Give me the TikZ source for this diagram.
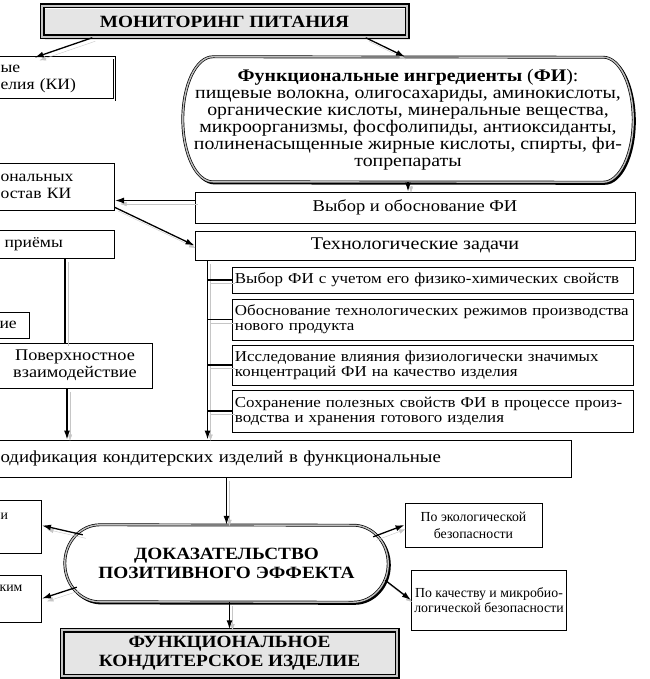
\documentclass[tikz,border=0pt]{standalone}
\usepackage{fontspec}
\setmainfont{Liberation Serif}[FakeStretch=1.12]
\newfontfamily\sidefont{Liberation Serif}
\usetikzlibrary{arrows.meta, positioning, calc, backgrounds, shadows}

\begin{document}
\begin{tikzpicture}[x=1pt, y=-1pt,
  every node/.style={font=\fontsize{17.2}{17}\selectfont},
  box/.style={draw, line width=0.9pt, inner sep=3pt, align=center},
  cutbox/.style={box, anchor=east, inner xsep=10pt, align=left, font=\fontsize{15.7}{17}\selectfont},
  dblbox/.style={cutbox, line width=0.9pt, double, double distance=1.2pt},
  sidebox/.style={box, font=\sidefont\fontsize{13.8}{15}\selectfont},
  taskbox/.style={box, anchor=west, minimum width=401pt, text width=396pt, inner xsep=2.5pt, align=left, font=\fontsize{15.1}{15}\selectfont},
  framebox/.style={draw, line width=1.5pt, double=gray!45, double distance=2pt, align=center, font=\fontsize{17.2}{19}\selectfont\bfseries, drop shadow={shadow xshift=3pt, shadow yshift=-3pt, fill=gray!40}},
  stadium/.style={draw, line width=0.7pt, double=gray!50, double distance=1.4pt, fill=white, preaction={draw, line width=2.2pt, transform canvas={shift={(1.5pt,-1.5pt)}}}},
  arr/.style={-{Latex[length=9pt,width=6pt]}, line width=1.3pt, preaction={draw=gray!45, transform canvas={shift={(3pt,-3.5pt)}}}},
  link/.style={line width=1.3pt, preaction={draw=gray!45, transform canvas={shift={(3pt,-3.5pt)}}}},
]
\useasboundingbox (0,0) rectangle (649,679);
\clip (0,0) rectangle (649,679);

\node[framebox, minimum width=365pt, minimum height=31pt] (title) at (224.5,21.5) {МОНИТОРИНГ ПИТАНИЯ};
\node[dblbox, text width=104pt, minimum height=42pt] (ki) at (115,79) {ые\\елия (КИ)};
\node[align=center, minimum width=450pt, minimum height=125pt, font=\fontsize{17.7}{17}\selectfont] (fi) at (408,119.5) {\textbf{Функциональные ингредиенты} (\textbf{ФИ}):\\пищевые волокна, олигосахариды, аминокислоты,\\органические кислоты, минеральные вещества,\\микроорганизмы, фосфолипиды, антиоксиданты,\\полиненасыщенные жирные кислоты, спирты, фи-\\топрепараты};
\node[box, minimum width=440pt, minimum height=31pt, font=\fontsize{16.5}{17}\selectfont] (vyb) at (415,207.5) {Выбор и обоснование ФИ};
\node[cutbox, text width=104pt, minimum height=47pt] (sost) at (115,186.5) {ональных\\остав КИ};
\node[box, minimum width=440pt, minimum height=29pt, font=\fontsize{17.9}{17}\selectfont] (tech) at (415,245.5) {Технологические задачи};
\node[cutbox, text width=100pt, minimum height=28pt] (priem) at (115,244) {приёмы};
\node[cutbox, text width=20pt, minimum height=26pt] (ie) at (30,325) {ие};
\node[box, minimum width=154pt, minimum height=45pt, font=\fontsize{16.3}{17}\selectfont] (pov) at (75,365.5) {Поверхностное\\взаимодействие};

\node[taskbox, minimum height=26pt] (t1) at (232,280) {Выбор ФИ с учетом его физико-химических свойств};
\node[taskbox, minimum height=41pt] (t2) at (232,319.5) {Обоснование технологических режимов производства\\нового продукта};
\node[taskbox, minimum height=40pt] (t3) at (232,365) {Исследование влияния физиологически значимых\\концентраций ФИ на качество изделия};
\node[taskbox, minimum height=42pt] (t4) at (232,411) {Сохранение полезных свойств ФИ в процессе произ-\\водства и хранения готового изделия};

\node[cutbox, text width=561pt, minimum height=37pt, font=\fontsize{16.8}{17}\selectfont] (mod) at (572,458.5) {одификация кондитерских изделий в функциональные};
\node[align=center, minimum width=323pt, minimum height=77pt, font=\fontsize{17.2}{19}\selectfont\bfseries] (dok) at (226.5,563.5) {ДОКАЗАТЕЛЬСТВО\\ПОЗИТИВНОГО ЭФФЕКТА};
\node[cutbox, font=\sidefont\fontsize{13.8}{15}\selectfont, text width=31pt, minimum height=53pt] (crit1) at (42,526.5) {и\\\strut};
\node[cutbox, font=\sidefont\fontsize{13.8}{15}\selectfont, text width=32pt, minimum height=47pt] (crit2) at (42,598.5) {ким\\\strut};
\node[sidebox, minimum width=137pt, minimum height=44pt, font=\sidefont\fontsize{13.8}{17}\selectfont] (eco) at (473.5,525) {По экологической\\безопасности};
\node[sidebox, minimum width=152pt, minimum height=60pt] (qual) at (489,600) {По качеству и микробио-\\логической безопасности};
\node[framebox, minimum width=335pt, minimum height=46pt] (fun) at (229.5,653) {ФУНКЦИОНАЛЬНОЕ\\КОНДИТЕРСКОЕ ИЗДЕЛИЕ};

\begin{scope}[on background layer]
\draw[stadium] ([xshift=30pt]fi.north west) arc[start angle=90, end angle=270, x radius=30pt, y radius=62.5pt] -- ([xshift=-30pt]fi.south east) arc[start angle=-90, end angle=90, x radius=30pt, y radius=62.5pt] -- cycle;
\draw[stadium] ([xshift=35pt]dok.north west) arc[start angle=90, end angle=270, x radius=35pt, y radius=38.5pt] -- ([xshift=-35pt]dok.south east) arc[start angle=-90, end angle=90, x radius=35pt, y radius=38.5pt] -- cycle;
\end{scope}

\draw[arr] ([xshift=51pt]title.south west) -- ([xshift=-18pt]ki.north);
\draw[arr] ([xshift=-42pt]title.south east) -- ([xshift=-3pt]fi.north);
\draw[arr] (fi.south) -- (fi.south |- vyb.north);
\draw[arr] ([yshift=7pt]vyb.west) -- ([yshift=7pt]vyb.west -| sost.east);
\draw[arr] ([yshift=3pt]sost.south east) -- (tech.west);
\draw[link] ([xshift=-10pt]pov.north |- priem.south) -- ([xshift=-10pt]pov.north);
\draw[arr] ([xshift=-8pt]pov.south) -- ([xshift=-8pt]pov.south |- mod.north);
\draw[arr] ([xshift=13pt]tech.south west) -- ([xshift=13pt]tech.south west |- mod.north);
\foreach \t in {t1,t2,t3,t4}
  \draw[link] ([xshift=13pt]tech.south west |- \t.west) -- (\t.west);
\draw[arr] (mod.south -| dok.north) -- (dok.north);
\draw[arr] ([xshift=18pt,yshift=-10pt]dok.north west) -- ([yshift=1pt]crit1.east);
\draw[arr] ([xshift=12pt,yshift=15pt]dok.south west) -- (crit2.east);
\draw[arr] ([xshift=-15pt,yshift=-12pt]dok.north east) -- (eco.west);
\draw[arr] ([xshift=-3pt,yshift=22pt]dok.south east) -- (qual.west);
\draw[arr] (fun.north |- dok.south) -- (fun.north);
\end{tikzpicture}
\end{document}
